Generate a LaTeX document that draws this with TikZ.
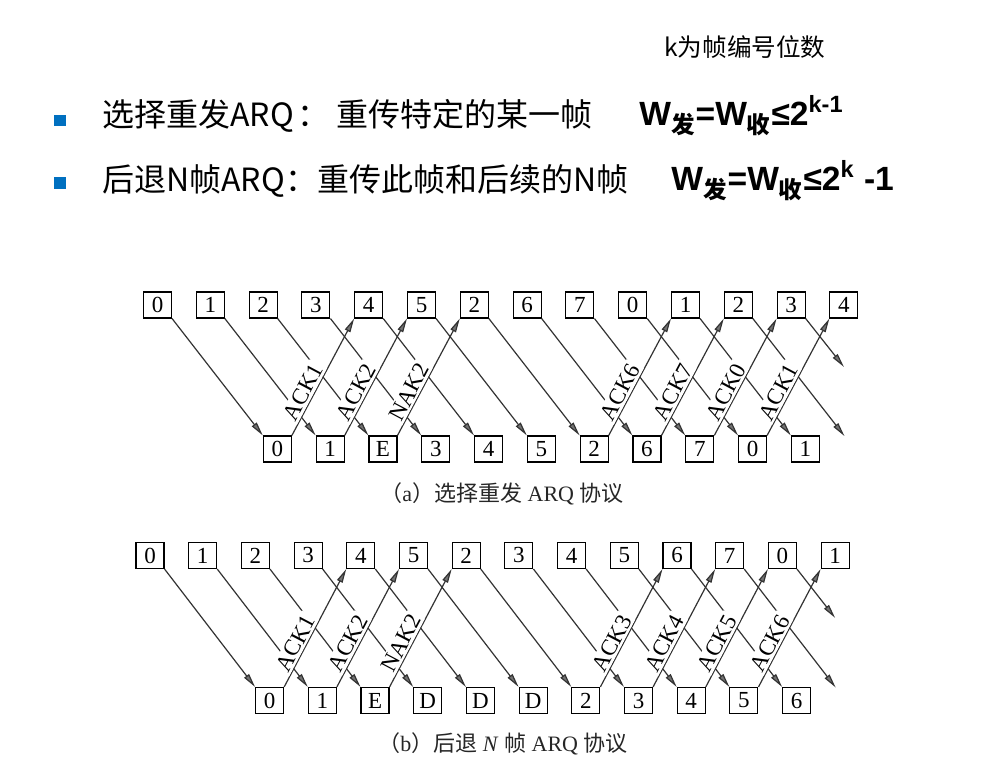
\documentclass[tikz,border=0pt]{standalone}
\usepackage{fontspec}
\setmainfont{Liberation Serif}
\newfontfamily\cjk{Noto Sans CJK SC}
\newfontfamily\winfont{Liberation Sans}
\usetikzlibrary{arrows.meta}
\definecolor{bulletblue}{RGB}{0,112,192}
\tikzset{
  seqbox/.style = {draw, line width=0.55pt, minimum width=14pt, minimum height=13pt, inner sep=0pt, font=\fontsize{11.5}{13}\selectfont},
  msg/.style = {line width=0.6pt, draw=black!80, -{Triangle[length=7pt,width=3pt,fill=black!55]}},
  acklab/.style = {sloped, above, pos=0.33, fill=white, inner sep=1pt, font=\fontsize{11.5}{13}\selectfont},
  slide/.style = {anchor=west, inner sep=0pt, font=\cjk\fontsize{16}{18}\selectfont},
  winsize/.style = {anchor=west, inner sep=0pt, font=\winfont\bfseries\fontsize{16.8}{18}\selectfont},
  caption/.style = {text=black!85, font=\fontsize{11}{13}\selectfont}
}
\begin{document}
\begin{tikzpicture}[x=0.5pt, y=0.5pt]
\path[fill=white] (0,0) rectangle (983,780);
% slide text
\node[anchor=west, inner sep=0pt, font=\cjk\fontsize{12.3}{14}\selectfont] (note) at (664,733) {k为帧编号位数};
\fill[bulletblue] (54,654) rectangle (66,665);
\fill[bulletblue] (54,591) rectangle (66,603);
\node[slide] (line1) at (102,664) {选择重发ARQ\hspace{2pt}：\hspace{3.5pt}重传特定的某一帧};
\node[winsize] (win1) at (639,664) {W\textsubscript{\cjk\bfseries 发}=W\textsubscript{\cjk\bfseries 收}≤2\textsuperscript{k-1}};
\node[slide] (line2) at (102,599) {后退N帧ARQ：重传此帧和后续的N帧};
\node[winsize] (win2) at (671,599) {W\textsubscript{\cjk\bfseries 发}=W\textsubscript{\cjk\bfseries 收}≤2\textsuperscript{k} -1};
% (a) selective repeat
\begin{scope}[shift={(157.5,475)}, x=26.4pt, y=72pt]
\node[seqbox] at (0,0) (sa0) {0};
\node[seqbox] at (1,0) (sa1) {1};
\node[seqbox] at (2,0) (sa2) {2};
\node[seqbox] at (3,0) (sa3) {3};
\node[seqbox] at (4,0) (sa4) {4};
\node[seqbox] at (5,0) (sa5) {5};
\node[seqbox] at (6,0) (sa6) {2};
\node[seqbox] at (7,0) (sa7) {6};
\node[seqbox] at (8,0) (sa8) {7};
\node[seqbox] at (9,0) (sa9) {0};
\node[seqbox] at (10,0) (sa10) {1};
\node[seqbox] at (11,0) (sa11) {2};
\node[seqbox] at (12,0) (sa12) {3};
\node[seqbox] at (13,0) (sa13) {4};
\node[seqbox] at (2.27,-1) (ra0) {0};
\node[seqbox] at (3.27,-1) (ra1) {1};
\node[seqbox] at (4.27,-1) (ra2) {E};
\node[seqbox] at (5.27,-1) (ra3) {3};
\node[seqbox] at (6.27,-1) (ra4) {4};
\node[seqbox] at (7.27,-1) (ra5) {5};
\node[seqbox] at (8.27,-1) (ra6) {2};
\node[seqbox] at (9.27,-1) (ra7) {6};
\node[seqbox] at (10.27,-1) (ra8) {7};
\node[seqbox] at (11.27,-1) (ra9) {0};
\node[seqbox] at (12.27,-1) (ra10) {1};
\coordinate (ea11) at (13.01,-0.91);
\coordinate (ea12) at (13,-0.43);
\draw[msg] (sa0.south east) -- (ra0.north west);
\draw[msg] (sa1.south east) -- (ra1.north west);
\draw[msg] (sa2.south east) -- (ra2.north west);
\draw[msg] (sa3.south east) -- (ra3.north west);
\draw[msg] (sa4.south east) -- (ra4.north west);
\draw[msg] (sa5.south east) -- (ra5.north west);
\draw[msg] (sa6.south east) -- (ra6.north west);
\draw[msg] (sa7.south east) -- (ra7.north west);
\draw[msg] (sa8.south east) -- (ra8.north west);
\draw[msg] (sa9.south east) -- (ra9.north west);
\draw[msg] (sa10.south east) -- (ra10.north west);
\draw[msg] (sa11.south east) -- (ea11);
\draw[msg] (sa12.south east) -- (ea12);
\draw[msg] (ra0.north east) -- node[acklab] {ACK1} (sa4.south west);
\draw[msg] (ra1.north east) -- node[acklab] {ACK2} (sa5.south west);
\draw[msg] (ra2.north east) -- node[acklab] {NAK2} (sa6.south west);
\draw[msg] (ra6.north east) -- node[acklab] {ACK6} (sa10.south west);
\draw[msg] (ra7.north east) -- node[acklab] {ACK7} (sa11.south west);
\draw[msg] (ra8.north east) -- node[acklab] {ACK0} (sa12.south west);
\draw[msg] (ra9.north east) -- node[acklab] {ACK1} (sa13.south west);
\end{scope}
\node[caption] (capa) at (502,286) {{\cjk （}a{\cjk ）选择重发} ARQ {\cjk 协议}};
% (b) go-back-N
\begin{scope}[shift={(150,224.5)}, x=26.35pt, y=72.5pt]
\node[seqbox] at (0,0) (sb0) {0};
\node[seqbox] at (1,0) (sb1) {1};
\node[seqbox] at (2,0) (sb2) {2};
\node[seqbox] at (3,0) (sb3) {3};
\node[seqbox] at (4,0) (sb4) {4};
\node[seqbox] at (5,0) (sb5) {5};
\node[seqbox] at (6,0) (sb6) {2};
\node[seqbox] at (7,0) (sb7) {3};
\node[seqbox] at (8,0) (sb8) {4};
\node[seqbox] at (9,0) (sb9) {5};
\node[seqbox] at (10,0) (sb10) {6};
\node[seqbox] at (11,0) (sb11) {7};
\node[seqbox] at (12,0) (sb12) {0};
\node[seqbox] at (13,0) (sb13) {1};
\node[seqbox] at (2.27,-1) (rb0) {0};
\node[seqbox] at (3.27,-1) (rb1) {1};
\node[seqbox] at (4.27,-1) (rb2) {E};
\node[seqbox] at (5.27,-1) (rb3) {D};
\node[seqbox] at (6.27,-1) (rb4) {D};
\node[seqbox] at (7.27,-1) (rb5) {D};
\node[seqbox] at (8.27,-1) (rb6) {2};
\node[seqbox] at (9.27,-1) (rb7) {3};
\node[seqbox] at (10.27,-1) (rb8) {4};
\node[seqbox] at (11.27,-1) (rb9) {5};
\node[seqbox] at (12.27,-1) (rb10) {6};
\coordinate (eb11) at (13.01,-0.91);
\coordinate (eb12) at (13,-0.43);
\draw[msg] (sb0.south east) -- (rb0.north west);
\draw[msg] (sb1.south east) -- (rb1.north west);
\draw[msg] (sb2.south east) -- (rb2.north west);
\draw[msg] (sb3.south east) -- (rb3.north west);
\draw[msg] (sb4.south east) -- (rb4.north west);
\draw[msg] (sb5.south east) -- (rb5.north west);
\draw[msg] (sb6.south east) -- (rb6.north west);
\draw[msg] (sb7.south east) -- (rb7.north west);
\draw[msg] (sb8.south east) -- (rb8.north west);
\draw[msg] (sb9.south east) -- (rb9.north west);
\draw[msg] (sb10.south east) -- (rb10.north west);
\draw[msg] (sb11.south east) -- (eb11);
\draw[msg] (sb12.south east) -- (eb12);
\draw[msg] (rb0.north east) -- node[acklab] {ACK1} (sb4.south west);
\draw[msg] (rb1.north east) -- node[acklab] {ACK2} (sb5.south west);
\draw[msg] (rb2.north east) -- node[acklab] {NAK2} (sb6.south west);
\draw[msg] (rb6.north east) -- node[acklab] {ACK3} (sb10.south west);
\draw[msg] (rb7.north east) -- node[acklab] {ACK4} (sb11.south west);
\draw[msg] (rb8.north east) -- node[acklab] {ACK5} (sb12.south west);
\draw[msg] (rb9.north east) -- node[acklab] {ACK6} (sb13.south west);
\end{scope}
\node[caption] (capb) at (503,36) {{\cjk （}b{\cjk ）后退} \textit{N} {\cjk 帧} ARQ {\cjk 协议}};
\end{tikzpicture}
\end{document}
